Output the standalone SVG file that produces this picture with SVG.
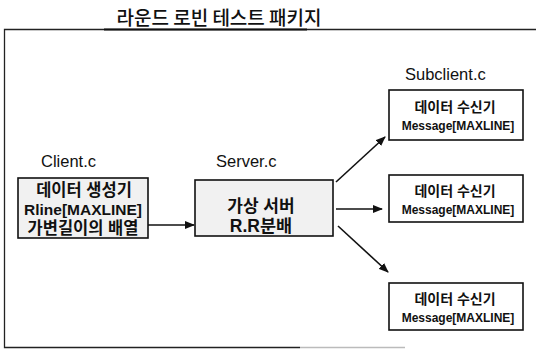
<svg xmlns="http://www.w3.org/2000/svg" width="536" height="349" viewBox="0 0 536 349">
<style>
.lbl{font-family:"Liberation Sans",Arial,sans-serif;font-size:16.5px;fill:#111}
.big{font-family:"Liberation Sans","Noto Sans CJK KR",sans-serif;font-size:15.5px;font-weight:bold;fill:#111;text-anchor:middle}
.ko{font-size:16.5px}
.sm{font-family:"Liberation Sans","Noto Sans CJK KR",sans-serif;font-size:12px;font-weight:bold;fill:#111;text-anchor:middle}
.sko{font-size:14px}
.box{stroke:#111;stroke-width:1.6}
.gray{fill:#f1f1f1}
.white{fill:#fff}
.conn{stroke:#111;stroke-width:1.6;fill:none;marker-end:url(#ah)}
</style>
<defs>
<marker id="ah" markerWidth="10" markerHeight="8" refX="9" refY="4" orient="auto" markerUnits="userSpaceOnUse">
<path d="M0,0 L10,4 L0,8 Z" fill="#111"/>
</marker>
</defs>
<rect width="536" height="349" fill="#fff"/>
<g id="frame">
<path d="M536,29.5 H4.5 V347.5 H300" stroke="#222" stroke-width="1.3" fill="none"/>
<path d="M300,347.5 H405" stroke="#bbb" stroke-width="1.3" fill="none"/>
<line x1="104" y1="29.5" x2="307" y2="29.5" stroke="#111" stroke-width="2"/>
</g>
<g id="title">
<text x="219" y="25" font-family="'Noto Sans CJK KR',sans-serif" font-size="19" font-weight="500" fill="#111" text-anchor="middle">라운드 로빈 테스트 패키지</text>
</g>
<g id="client">
<text class="lbl" x="41" y="167">Client.c</text>
<rect class="box gray" x="18" y="178" width="130" height="60"/>
<text class="big ko" x="84" y="196">데이터 생성기</text>
<text class="big" x="83" y="215">Rline[MAXLINE]</text>
<text class="big ko" x="83" y="234">가변길이의 배열</text>
</g>
<g id="server">
<text class="lbl" x="216" y="167">Server.c</text>
<rect class="box gray" x="195" y="180" width="138" height="56"/>
<text class="big ko" x="261" y="212" style="font-size:17px">가상 서버</text>
<text class="big" x="261" y="232" style="font-size:17.5px">R.R분배</text>
</g>
<g id="sub1">
<text class="lbl" x="405" y="80">Subclient.c</text>
<rect class="box white" x="389" y="90" width="134" height="50"/>
<text class="sm sko" x="455" y="112">데이터 수신기</text>
<text class="sm" x="458" y="130">Message[MAXLINE]</text>
</g>
<g id="sub2">
<rect class="box white" x="389" y="175" width="134" height="47"/>
<text class="sm sko" x="455" y="196">데이터 수신기</text>
<text class="sm" x="458" y="214">Message[MAXLINE]</text>
</g>
<g id="sub3">
<rect class="box white" x="389" y="283" width="134" height="47"/>
<text class="sm sko" x="455" y="304">데이터 수신기</text>
<text class="sm" x="458" y="322">Message[MAXLINE]</text>
</g>
<g id="connectors">
<line class="conn" x1="148" y1="225" x2="194" y2="225"/>
<line class="conn" x1="336" y1="182" x2="385" y2="137"/>
<line class="conn" x1="336" y1="209" x2="382" y2="209"/>
<line class="conn" x1="338" y1="226" x2="388" y2="272"/>
</g>
</svg>
